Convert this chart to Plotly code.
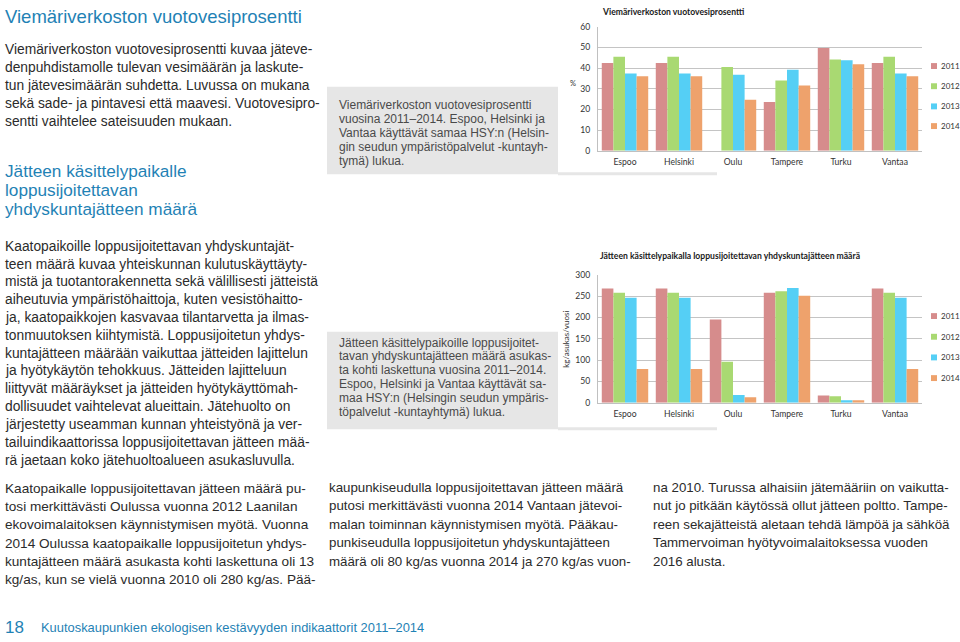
import plotly.graph_objects as go

W, H = 960, 642

# ---------------- data ----------------
cities = ["Espoo", "Helsinki", "Oulu", "Tampere", "Turku", "Vantaa"]
years = ["2011", "2012", "2013", "2014"]

leak_2011 = [42.4, 42.4, None, 23.6, 49.7, 42.4]
leak_2012 = [45.5, 45.5, 40.5, 34.0, 44.1, 45.5]
leak_2013 = [37.4, 37.4, 36.7, 39.2, 43.8, 37.4]
leak_2014 = [36.0, 36.0, 24.6, 31.5, 41.8, 36.0]

waste_2011 = [268, 268, 195, 258, 17, 268]
waste_2012 = [258, 258, 96, 261, 15, 258]
waste_2013 = [246, 246, 18, 269, 6, 246]
waste_2014 = [79, 79, 13, 251, 6, 79]

leak_ticks = [0, 10, 20, 30, 40, 50, 60]
waste_ticks = [0, 50, 100, 150, 200, 250, 300]

colors = ["#d68c8c", "#a9d972", "#55cff5", "#eea26c"]

leak_series = [leak_2011, leak_2012, leak_2013, leak_2014]
waste_series = [waste_2011, waste_2012, waste_2013, waste_2014]

# ---------------- helpers ----------------
def px(x):
    return x / W


def py(y):
    return 1 - y / H


BODY = "Liberation Sans"
CHART = "Lato"
BLUE = "#1f82b5"
TEXT = "#2b2b2b"
CAP = "#4a4a4a"

fig = go.Figure()

for i, yr in enumerate(years):
    fig.add_trace(go.Bar(x=cities, y=leak_series[i], name=yr, marker_color=colors[i],
                         marker_line_width=0, xaxis="x", yaxis="y", showlegend=False))
    fig.add_trace(go.Bar(x=cities, y=waste_series[i], name=yr, marker_color=colors[i],
                         marker_line_width=0, xaxis="x2", yaxis="y2", showlegend=False))

annotations = []
shapes = []


def txt(s, x, y, size, color, family=BODY, anchor="left", bold=False, angle=0, yanchor="middle"):
    if bold:
        s = "<b>" + s + "</b>"
    annotations.append(dict(text=s, x=px(x), y=py(y), xref="paper", yref="paper",
                            xanchor=anchor, yanchor=yanchor, showarrow=False, textangle=angle,
                            borderpad=0, font=dict(family=family, size=size, color=color)))


def add_lines(lines, x, y0, step, size, color, family=BODY):
    for k, line in enumerate(lines):
        txt(line, x, y0 + k * step, size, color, family)


# gray caption boxes
shapes.append(dict(type="rect", xref="paper", yref="paper", x0=px(327), x1=px(558),
                   y0=py(172), y1=py(83), fillcolor="#e6e6e6", line_width=0, layer="below"))
shapes.append(dict(type="rect", xref="paper", yref="paper", x0=px(558), x1=px(717),
                   y0=py(173), y1=py(170), fillcolor="#e6e6e6", line_width=0, layer="below"))
shapes.append(dict(type="rect", xref="paper", yref="paper", x0=px(327), x1=px(558),
                   y0=py(431), y1=py(332), fillcolor="#e6e6e6", line_width=0, layer="below"))
shapes.append(dict(type="rect", xref="paper", yref="paper", x0=px(558), x1=px(717),
                   y0=py(432), y1=py(429), fillcolor="#e6e6e6", line_width=0, layer="below"))

# headings and body text
txt("Viemäriverkoston vuotovesiprosentti", 4, 12, 18.5, BLUE)
add_lines([
    "Viemäriverkoston vuotovesiprosentti kuvaa jäteve-",
    "denpuhdistamolle tulevan vesimäärän ja laskute-",
    "tun jätevesimäärän suhdetta. Luvussa on mukana",
    "sekä sade- ja pintavesi että maavesi. Vuotovesipro-",
    "sentti vaihtelee sateisuuden mukaan.",
], 4, 45, 18.3, 13.8, TEXT)

add_lines([
    "Jätteen käsittelypaikalle",
    "loppusijoitettavan",
    "yhdyskuntajätteen määrä",
], 4, 168.5, 19.4, 17.2, BLUE)

add_lines([
    "Kaatopaikoille loppusijoitettavan yhdyskuntajät-",
    "teen määrä kuvaa yhteiskunnan kulutuskäyttäyty-",
    "mistä ja tuotantorakennetta sekä välillisesti jätteistä",
    "aiheutuvia ympäristöhaittoja, kuten vesistöhaitto-",
    "ja, kaatopaikkojen kasvavaa tilantarvetta ja ilmas-",
    "tonmuutoksen kiihtymistä. Loppusijoitetun yhdys-",
    "kuntajätteen määrään vaikuttaa jätteiden lajittelun",
    "ja hyötykäytön tehokkuus. Jätteiden lajitteluun",
    "liittyvät määräykset ja jätteiden hyötykäyttömah-",
    "dollisuudet vaihtelevat alueittain. Jätehuolto on",
    "järjestetty useamman kunnan yhteistyönä ja ver-",
    "tailuindikaattorissa loppusijoitettavan jätteen mää-",
    "rä jaetaan koko jätehuoltoalueen asukasluvulla.",
], 4, 245, 18.1, 13.8, TEXT)

add_lines([
    "Kaatopaikalle loppusijoitettavan jätteen määrä pu-",
    "tosi merkittävästi Oulussa vuonna 2012 Laanilan",
    "ekovoimalaitoksen käynnistymisen myötä. Vuonna",
    "2014 Oulussa kaatopaikalle loppusijoitetun yhdys-",
    "kuntajätteen määrä asukasta kohti laskettuna oli 13",
    "kg/as, kun se vielä vuonna 2010 oli 280 kg/as. Pää-",
], 4, 491, 18.6, 13.6, TEXT)

add_lines([
    "kaupunkiseudulla loppusijoitettavan jätteen määrä",
    "putosi merkittävästi vuonna 2014 Vantaan jätevoi-",
    "malan toiminnan käynnistymisen myötä. Pääkau-",
    "punkiseudulla loppusijoitetun yhdyskuntajätteen",
    "määrä oli 80 kg/as vuonna 2014 ja 270 kg/as vuon-",
], 328, 490, 18.8, 13.3, TEXT)

add_lines([
    "na 2010. Turussa alhaisiin jätemääriin on vaikutta-",
    "nut jo pitkään käytössä ollut jätteen poltto. Tampe-",
    "reen sekajätteistä aletaan tehdä lämpöä ja sähköä",
    "Tammervoiman hyötyvoimalaitoksessa vuoden",
    "2016 alusta.",
], 652, 490, 18.8, 13.3, TEXT)

# captions
add_lines([
    "Viemäriverkoston vuotovesiprosentti",
    "vuosina 2011–2014. Espoo, Helsinki ja",
    "Vantaa käyttävät samaa HSY:n (Helsin-",
    "gin seudun ympäristöpalvelut -kuntayh-",
    "tymä) lukua.",
], 338, 102, 14.1, 12, CAP)

add_lines([
    "Jätteen käsittelypaikoille loppusijoitet-",
    "tavan yhdyskuntajätteen määrä asukas-",
    "ta kohti laskettuna vuosina 2011–2014.",
    "Espoo, Helsinki ja Vantaa käyttävät sa-",
    "maa HSY:n (Helsingin seudun ympäris-",
    "töpalvelut -kuntayhtymä) lukua.",
], 338, 343, 14.0, 12, CAP)

# footer
txt("18", 4, 632, 17, BLUE)
txt("Kuutoskaupunkien ekologisen kestävyyden indikaattorit 2011–2014", 40, 632, 12.9, BLUE)

# chart titles and axis titles
txt("Viemäriverkoston vuotovesiprosentti", 601, 7, 8.6, "#1a1a1a", CHART, bold=True)
txt("Jätteen käsittelypaikalla loppusijoitettavan yhdyskuntajätteen määrä", 599, 255, 8.6,
    "#1a1a1a", CHART, bold=True)
txt("%", 573, 80, 7.5, "#333333", CHART, anchor="center")
txt("kg/asukas/vuosi", 566, 340, 8, "#333333", CHART, anchor="center", angle=-90)

# manual legends
for rows_y in ([62, 82.5, 103, 123], [316, 337, 358, 379]):
    for i, yr in enumerate(years):
        yc = rows_y[i]
        shapes.append(dict(type="rect", xref="paper", yref="paper", x0=px(931), x1=px(937),
                           y0=py(yc + 3), y1=py(yc - 3), fillcolor=colors[i], line_width=0))
        txt(yr, 940, yc, 8, "#333333", CHART)

axis_common = dict(showline=True, linecolor="#c0c0c0", linewidth=1, ticks="", zeroline=False,
                   tickfont=dict(family=CHART, size=8.6, color="#333333"))

fig.update_layout(
    width=W, height=H, autosize=False,
    margin=dict(l=0, r=0, t=0, b=0),
    paper_bgcolor="white", plot_bgcolor="white",
    barmode="group", bargap=0.14, bargroupgap=0,
    showlegend=False,
    xaxis=dict(domain=[px(598), px(922)], anchor="y", ticklabelstandoff=3, **axis_common),
    yaxis=dict(domain=[py(148), py(22)], anchor="x", range=[0, 60], tickvals=leak_ticks,
               showgrid=True, gridcolor="#c4c4c4", gridwidth=1, ticklabelstandoff=5,
               **axis_common),
    xaxis2=dict(domain=[px(598), px(922)], anchor="y2", ticklabelstandoff=3, **axis_common),
    yaxis2=dict(domain=[py(404), py(274)], anchor="x2", range=[0, 300], tickvals=waste_ticks,
                showgrid=True, gridcolor="#c4c4c4", gridwidth=1, ticklabelstandoff=5,
                **axis_common),
    annotations=annotations,
    shapes=shapes,
)

fig.write_html("out.html", config={"displayModeBar": False},
               post_script="document.body.style.margin='0';document.body.style.overflow='hidden';")
